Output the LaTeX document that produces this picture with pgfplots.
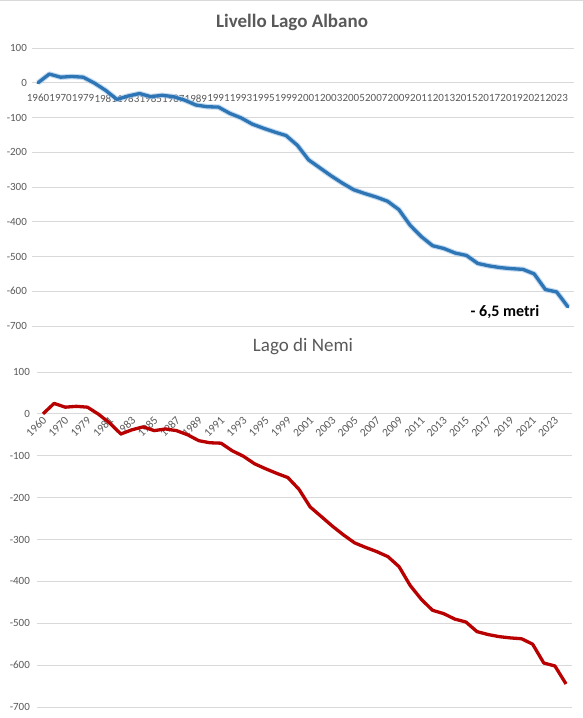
\documentclass[border=0pt]{standalone}
\usepackage{fontspec}
\setmainfont{Carlito}
\usepackage{pgfplots}
\pgfplotsset{compat=1.18}
\usepackage{pgfplotstable}
\definecolor{txt}{HTML}{595959}
\definecolor{grd}{HTML}{D9D9D9}
\definecolor{lblue}{HTML}{2E75B6}
\definecolor{glow}{HTML}{9DC3E6}
\definecolor{lred}{HTML}{B80000}

\pgfplotstableread{
x y
0 0
1 25
2 16
3 18
4 16
5 -1
6 -22
7 -48
8 -38
9 -31
10 -40
11 -36
12 -40
13 -50
14 -64
15 -69
16 -70
17 -88
18 -101
19 -119
20 -131
21 -142
22 -152
23 -180
24 -222
25 -245
26 -268
27 -289
28 -308
29 -319
30 -329
31 -341
32 -365
33 -410
34 -443
35 -469
36 -477
37 -490
38 -497
39 -520
40 -527
41 -532
42 -535
43 -537
44 -550
45 -595
46 -602
47 -645
}\levels

\begin{document}
\begin{tikzpicture}
\useasboundingbox (0pt,0pt) rectangle (583pt,718pt);
\draw[grd, line width=1pt] (0pt,717.5pt) -- (583pt,717.5pt);
\pgfplotsset{common/.style={
  scale only axis, xmin=-0.5, xmax=47.5, ymin=-700, ymax=100,
  ytick={-700,-600,...,100}, xtick={0,2,...,46},
  xticklabels={1960,1970,1979,1981,1983,1985,1987,1989,1991,1993,1995,1999,2001,2003,2005,2007,2009,2011,2013,2015,2017,2019,2021,2023},
  axis line style={draw=none}, tick style={draw=none},
  ymajorgrids, grid style={grd, line width=0.9pt},
  tick label style={font=\fontsize{11}{13}\selectfont, text=txt},
  /pgf/number format/assume math mode=true,
  clip=false}}

\begin{axis}[common, anchor=south west, at={(32.4pt,392pt)}, width=541.2pt, height=278pt,
  xticklabel style={yshift=235pt}, yticklabel style={xshift=-2pt}]
\addplot[glow, line width=5.5pt, opacity=0.6, line join=round] table {\levels};
\addplot[lblue, line width=3.3pt, line join=round, line cap=round] table {\levels};
\end{axis}

\begin{axis}[common, anchor=south west, at={(37.4pt,11pt)}, width=534.2pt, height=335pt,
  yticklabel style={xshift=-4pt},
  xticklabel style={font=\fontsize{11.5}{13}\selectfont, yshift=291pt, xshift=4pt, rotate=45, anchor=east}]
\addplot[lred, line width=3.3pt, line join=round] table {\levels};
\end{axis}

\node[font=\fontsize{19}{22}\selectfont\bfseries, text=txt] at (292pt,696pt) {Livello Lago Albano};
\node[font=\fontsize{16}{19}\selectfont\bfseries] at (505pt,406pt) {- 6,5 metri};
\node[font=\fontsize{19}{22}\selectfont, text=txt] at (303pt,371pt) {Lago di Nemi};
\end{tikzpicture}
\end{document}
